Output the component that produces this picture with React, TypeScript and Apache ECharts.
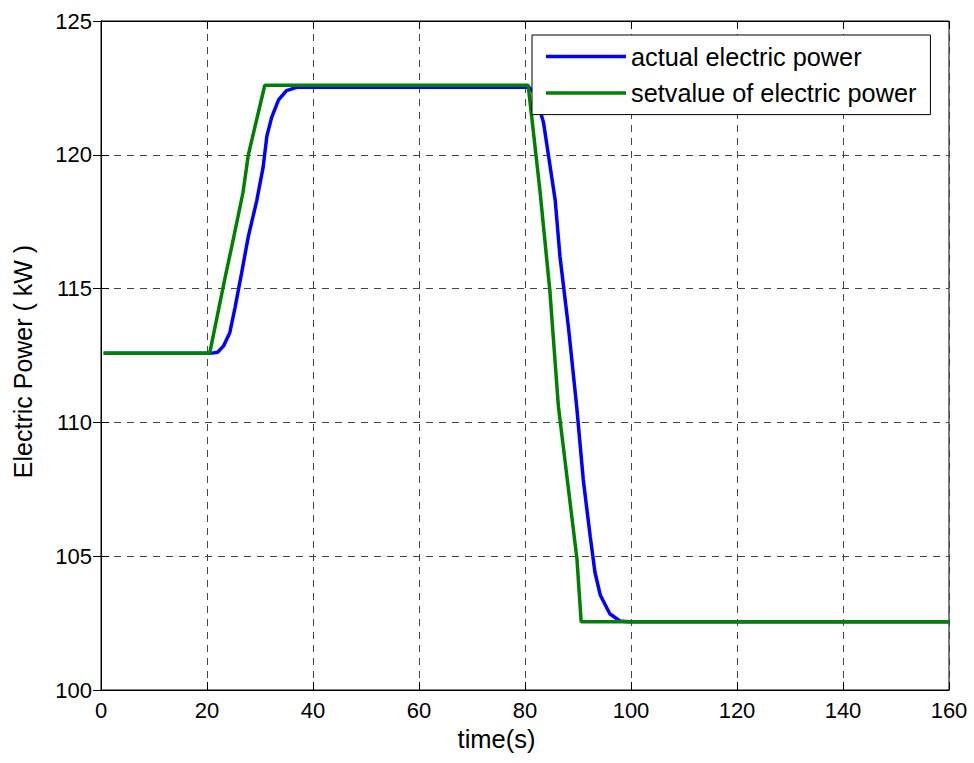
import React, { useEffect, useRef } from "react";
import * as echarts from "echarts";

const seriesNames = ["actual electric power", "setvalue of electric power"];

const actualTime = [0.5, 20.6, 22, 23.1, 24.3, 25.3, 26.5, 27.8, 29.4, 30.6, 31.3, 32.2, 33.5, 35.0, 36.9, 80.8, 82, 83.5, 85.7, 86.6, 88.2, 89.75, 91.0, 92.3, 93.2, 94.2, 96.0, 97.9, 99.5, 160];
const actualPower = [112.58, 112.58, 112.62, 112.85, 113.35, 114.3, 115.55, 116.95, 118.3, 119.55, 120.7, 121.4, 122.05, 122.4, 122.52, 122.52, 122.25, 121.2, 118.3, 116.2, 113.55, 110.6, 107.85, 105.75, 104.4, 103.55, 102.85, 102.58, 102.55, 102.55];

const setTime = [0.5, 20.5, 23.4, 24.7, 26.8, 27.8, 30.9, 80.6, 82.8, 84.7, 86.3, 89.8, 90.6, 160];
const setPower = [112.58, 112.58, 115.4, 116.6, 118.6, 120.0, 122.6, 122.6, 118.7, 114.9, 110.6, 104.9, 102.55, 102.55];

const FONT = "'Liberation Sans', Arial, sans-serif";

export default function App() {
  const ref = useRef<HTMLDivElement>(null);
  useEffect(() => {
    document.body.style.margin = "0";
    const chart = echarts.init(ref.current!, null, { renderer: "svg" });
    const gridLine = { show: true, lineStyle: { color: "#444", type: [7, 6] as any, width: 1 } };
    const tick = { show: true, inside: true, length: 8, lineStyle: { color: "#000" } };
    const axisLine = { show: true, lineStyle: { color: "#000", width: 1 } };
    chart.setOption({
      animation: false,
      backgroundColor: "#fff",
      textStyle: { fontFamily: FONT },
      grid: { left: 101, top: 21, right: 25, bottom: 73, show: true, borderColor: "#000", borderWidth: 1 },
      legend: {
        orient: "vertical",
        left: 532,
        top: 35,
        data: seriesNames,
        icon: "rect",
        itemWidth: 80,
        itemHeight: 3.5,
        itemGap: 11.6,
        padding: [9, 14, 9, 14],
        backgroundColor: "#fff",
        borderColor: "#000",
        borderWidth: 1,
        borderRadius: 0,
        textStyle: { fontSize: 25.3, color: "#000", fontFamily: FONT, lineHeight: 25 },
      },
      xAxis: [
        {
          type: "value",
          min: 0,
          max: 160,
          interval: 20,
          name: "time(s)",
          nameLocation: "middle",
          nameGap: 35,
          nameTextStyle: { fontSize: 25.5, color: "#000", fontFamily: FONT, padding: [0, 57, 0, 0] },
          axisLine,
          axisTick: tick,
          axisLabel: { fontSize: 22, color: "#000", margin: 9, fontFamily: FONT },
          splitLine: gridLine,
        },
        {
          type: "value",
          position: "top",
          min: 0,
          max: 160,
          interval: 20,
          axisLine,
          axisTick: tick,
          axisLabel: { show: false },
          splitLine: { show: false },
        },
      ],
      yAxis: [
        {
          type: "value",
          min: 100,
          max: 125,
          interval: 5,
          name: "Electric Power ( kW )",
          nameLocation: "middle",
          nameGap: 66,
          nameTextStyle: { fontSize: 25, color: "#000", fontFamily: FONT, padding: [0, 12, 0, 0] },
          axisLine,
          axisTick: tick,
          axisLabel: { fontSize: 22, color: "#000", margin: 9, fontFamily: FONT },
          splitLine: gridLine,
        },
        {
          type: "value",
          position: "right",
          min: 100,
          max: 125,
          interval: 5,
          axisLine,
          axisTick: tick,
          axisLabel: { show: false },
          splitLine: { show: false },
        },
      ],
      series: [
        {
          name: seriesNames[0],
          type: "line",
          data: actualTime.map((t, i) => [t, actualPower[i]]),
          showSymbol: false,
          symbol: "none",
          lineStyle: { color: "#0000ff", width: 3.5 },
          itemStyle: { color: "#0000ff" },
          z: 2,
        },
        {
          name: seriesNames[1],
          type: "line",
          data: setTime.map((t, i) => [t, setPower[i]]),
          showSymbol: false,
          symbol: "none",
          lineStyle: { color: "#008000", width: 3.5 },
          itemStyle: { color: "#008000" },
          z: 3,
        },
      ],
    });
    return () => chart.dispose();
  }, []);
  return <div ref={ref} style={{ width: 974, height: 763 }} />;
}
